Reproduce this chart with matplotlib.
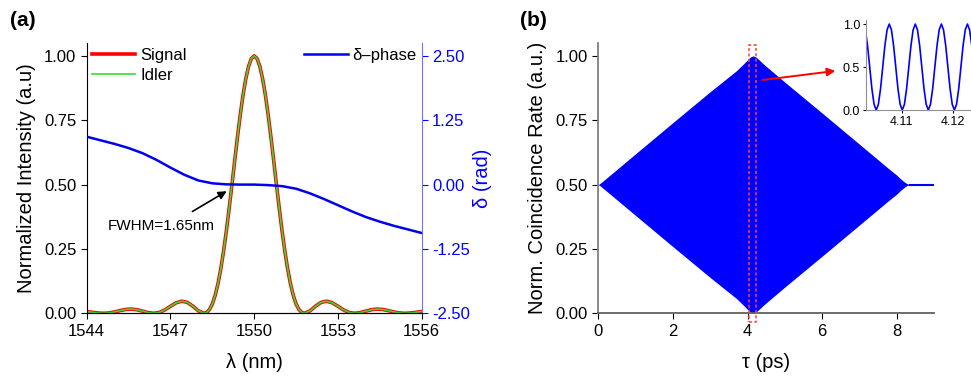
import matplotlib
matplotlib.use('Agg')
import matplotlib.pyplot as plt
from matplotlib.patches import Rectangle
from matplotlib.ticker import FormatStrFormatter

plt.rcParams['font.family'] = ['Liberation Sans', 'DejaVu Sans']

# (a) spectra of signal / idler and phase
wl = [1544.0, 1544.2, 1544.4, 1544.6, 1544.8, 1545.0, 1545.2, 1545.4, 1545.6, 1545.8,
      1546.0, 1546.2, 1546.4, 1546.6, 1546.8, 1547.0, 1547.2, 1547.4, 1547.6, 1547.8,
      1548.0, 1548.2, 1548.3, 1548.4, 1548.5, 1548.6, 1548.7, 1548.8, 1548.9, 1549.0,
      1549.1, 1549.2, 1549.3, 1549.4, 1549.5, 1549.6, 1549.7, 1549.8, 1549.9, 1550.0,
      1550.1, 1550.2, 1550.3, 1550.4, 1550.5, 1550.6, 1550.7, 1550.8, 1550.9, 1551.0,
      1551.1, 1551.2, 1551.3, 1551.4, 1551.5, 1551.6, 1551.7, 1551.8,
      1552.0, 1552.2, 1552.4, 1552.6, 1552.8, 1553.0, 1553.2, 1553.4, 1553.6, 1553.8,
      1554.0, 1554.2, 1554.4, 1554.6, 1554.8, 1555.0, 1555.2, 1555.4, 1555.6, 1555.8,
      1556.0]
signal = [0.0068, 0.0040, 0.0012, 0.0, 0.0014, 0.0054, 0.0107, 0.0150, 0.0164, 0.0140,
          0.0085, 0.0027, 0.0, 0.0033, 0.0132, 0.0274, 0.0406, 0.0471, 0.0427, 0.0280,
          0.0096, 0.0, 0.0034, 0.0150, 0.0365, 0.0692, 0.1140, 0.171, 0.2396, 0.318,
          0.4053, 0.497, 0.5916, 0.684, 0.7706, 0.848, 0.9119, 0.960, 0.9899, 1.0,
          0.9899, 0.960, 0.9119, 0.848, 0.7706, 0.684, 0.5916, 0.497, 0.4053, 0.318,
          0.2396, 0.171, 0.1140, 0.0692, 0.0365, 0.0150, 0.0034, 0.0,
          0.0096, 0.0280, 0.0427, 0.0471, 0.0406, 0.0274, 0.0132, 0.0033, 0.0, 0.0027,
          0.0085, 0.0140, 0.0164, 0.0150, 0.0107, 0.0054, 0.0014, 0.0, 0.0012, 0.0040,
          0.0068]
idler = signal

wl_ph = [1544.0, 1544.5, 1545.0, 1545.5, 1546.0, 1546.5, 1547.0, 1547.5, 1548.0, 1548.5,
         1549.0, 1549.5, 1550.0, 1550.5, 1551.0, 1551.5, 1552.0, 1552.5, 1553.0, 1553.5,
         1554.0, 1554.5, 1555.0, 1555.5, 1556.0]
phase = [0.93, 0.86, 0.79, 0.71, 0.61, 0.48, 0.33, 0.19, 0.08, 0.025,
         0.005, 0.0, 0.0, -0.01, -0.03, -0.08, -0.17, -0.28, -0.40, -0.52,
         -0.63, -0.72, -0.80, -0.87, -0.94]

# (b) envelope of the coincidence fringes
tau_env = [0.0, 0.05, 0.15, 0.3, 1.0, 2.0, 3.0, 3.7, 3.9, 4.0, 4.08, 4.15, 4.22,
           4.3, 4.4, 4.6, 5.0, 6.0, 7.0, 7.8, 8.0, 8.1, 8.2, 8.27, 8.35]
env_up = [0.5, 0.505, 0.517, 0.535, 0.620, 0.741, 0.861, 0.942, 0.970, 0.985, 0.996, 1.0, 0.996,
          0.986, 0.972, 0.947, 0.898, 0.778, 0.657, 0.560, 0.537, 0.523, 0.511, 0.504, 0.5]
env_lo = [0.5, 0.495, 0.483, 0.465, 0.380, 0.259, 0.139, 0.058, 0.030, 0.015, 0.004, 0.0, 0.004,
          0.014, 0.028, 0.053, 0.102, 0.222, 0.343, 0.440, 0.463, 0.477, 0.489, 0.496, 0.5]
tau_tail = [8.35, 9.0]
rate_tail = [0.5, 0.5]

# inset: resolved fringes near the peak
tau_in = [4.102500, 4.102925, 4.103350, 4.103775, 4.104200, 4.104625, 4.105050, 4.105475,
          4.105900, 4.106325, 4.106750, 4.107175, 4.107600, 4.108025, 4.108450, 4.108875,
          4.109300, 4.109725, 4.110150, 4.110575, 4.111000, 4.111425, 4.111850, 4.112275,
          4.112700, 4.113125, 4.113550, 4.113975, 4.114400, 4.114825, 4.115250, 4.115675,
          4.116100, 4.116525, 4.116950, 4.117375, 4.117800, 4.118225, 4.118650, 4.119075,
          4.119500, 4.119925, 4.120350, 4.120775, 4.121200, 4.121625, 4.122050, 4.122475,
          4.122900, 4.123325, 4.123750, 4.124175]
rate_in = [1.0, 0.933, 0.75, 0.5, 0.25, 0.067, 0.0, 0.067, 0.25, 0.5, 0.75, 0.933,
           1.0, 0.933, 0.75, 0.5, 0.25, 0.067, 0.0, 0.067, 0.25, 0.5, 0.75, 0.933,
           1.0, 0.933, 0.75, 0.5, 0.25, 0.067, 0.0, 0.067, 0.25, 0.5, 0.75, 0.933,
           1.0, 0.933, 0.75, 0.5, 0.25, 0.067, 0.0, 0.067, 0.25, 0.5, 0.75, 0.933,
           1.0, 0.933, 0.75, 0.5]

fig = plt.figure(figsize=(9.71, 3.76), dpi=100)

# ---- panel (a)
ax = fig.add_axes([0.0893, 0.1667, 0.3450, 0.7189])
ax.plot(wl, signal, color='red', lw=2.6, label='Signal')
ax.plot(wl, idler, color='#33dd33', lw=1.2, label='Idler')
ax.set_xlim(1544, 1556)
ax.set_ylim(0, 1.05)
ax.set_xticks([1544, 1547, 1550, 1553, 1556])
ax.set_yticks([0, 0.25, 0.5, 0.75, 1.0])
ax.yaxis.set_major_formatter(FormatStrFormatter('%.2f'))
ax.tick_params(labelsize=12, direction='out', length=4)
ax.spines['top'].set_visible(False)
ax.spines['right'].set_visible(False)
ax.set_xlabel('λ (nm)', fontsize=14.5, labelpad=10)
ax.set_ylabel('Normalized Intensity (a.u)', fontsize=14.5, labelpad=6)
ax.legend(loc='upper left', frameon=False, fontsize=12, handlelength=2.6,
          handletextpad=0.3, borderaxespad=0.1, labelspacing=0.3, borderpad=0.2)

ax2 = ax.twinx()
ax2.plot(wl_ph, phase, color='#0000ee', lw=1.8, label='δ–phase')
ax2.set_ylim(-2.5, 2.75)
ax2.set_yticks([-2.5, -1.25, 0, 1.25, 2.5])
ax2.yaxis.set_major_formatter(FormatStrFormatter('%.2f'))
ax2.tick_params(labelsize=12, colors='#0000ff', direction='out', length=4)
ax2.spines['right'].set_color('#7070ff')
ax2.spines['top'].set_visible(False)
ax2.spines['left'].set_visible(False)
ax2.set_ylabel('δ (rad)', fontsize=14.5, color='#0000ff', labelpad=2)
ax2.legend(loc='upper right', frameon=False, fontsize=12, handlelength=2.6,
           handletextpad=0.3, borderaxespad=0.1, borderpad=0.2)

ax.annotate('', xy=(1549.1, 0.48), xytext=(1547.7, 0.39),
            arrowprops=dict(arrowstyle='-|>', color='black', lw=1.2, mutation_scale=12))
ax.text(1546.68, 0.34, 'FWHM=1.65nm', fontsize=11, ha='center', va='center')
fig.text(0.010, 0.945, '(a)', fontsize=15, fontweight='bold', ha='left', va='center')

# ---- panel (b)
bx = fig.add_axes([0.6162, 0.1667, 0.3457, 0.7189])
bx.fill_between(tau_env, env_lo, env_up, color='#0000ff', lw=0)
bx.plot(tau_tail, rate_tail, color='#0000ff', lw=1.5)
bx.set_xlim(0, 9)
bx.set_ylim(0, 1.05)
bx.set_xticks([0, 2, 4, 6, 8])
bx.set_yticks([0, 0.25, 0.5, 0.75, 1.0])
bx.yaxis.set_major_formatter(FormatStrFormatter('%.2f'))
bx.tick_params(labelsize=12, direction='out', length=4)
for s in ['top', 'right']:
    bx.spines[s].set_visible(False)
bx.spines['left'].set_color('#808080')
bx.spines['left'].set_linewidth(1.3)
bx.spines['bottom'].set_color('#606060')
bx.spines['bottom'].set_linewidth(1.3)
bx.set_xlabel('τ (ps)', fontsize=14.5, labelpad=10)
bx.set_ylabel('Norm. Coincidence Rate (a.u.)', fontsize=14.5, labelpad=6)
bx.add_patch(Rectangle((4.05, -0.032), 0.18, 1.075, fill=False, edgecolor='#ff4040',
                       lw=1.1, ls=(0, (2, 1.5)), clip_on=False, zorder=5))
bx.annotate('', xy=(6.43, 0.943), xytext=(4.33, 0.905),
            arrowprops=dict(arrowstyle='-|>', color='red', lw=1.4, mutation_scale=12))
fig.text(0.536, 0.945, '(b)', fontsize=15, fontweight='bold', ha='left', va='center')

ix = fig.add_axes([0.8916, 0.7074, 0.1084, 0.2394])
ix.plot(tau_in, rate_in, color='#0000ff', lw=1.2)
ix.set_xlim(4.1030, 4.1236)
ix.set_ylim(0, 1.047)
ix.set_xticks([4.11, 4.12])
ix.set_yticks([0, 0.5, 1.0])
ix.yaxis.set_major_formatter(FormatStrFormatter('%.1f'))
ix.tick_params(labelsize=9, direction='out', length=2.5, pad=1.5)
for s in ['top', 'right']:
    ix.spines[s].set_visible(False)
for s in ['left', 'bottom']:
    ix.spines[s].set_color('#909090')

fig.savefig('out.png', dpi=100)
